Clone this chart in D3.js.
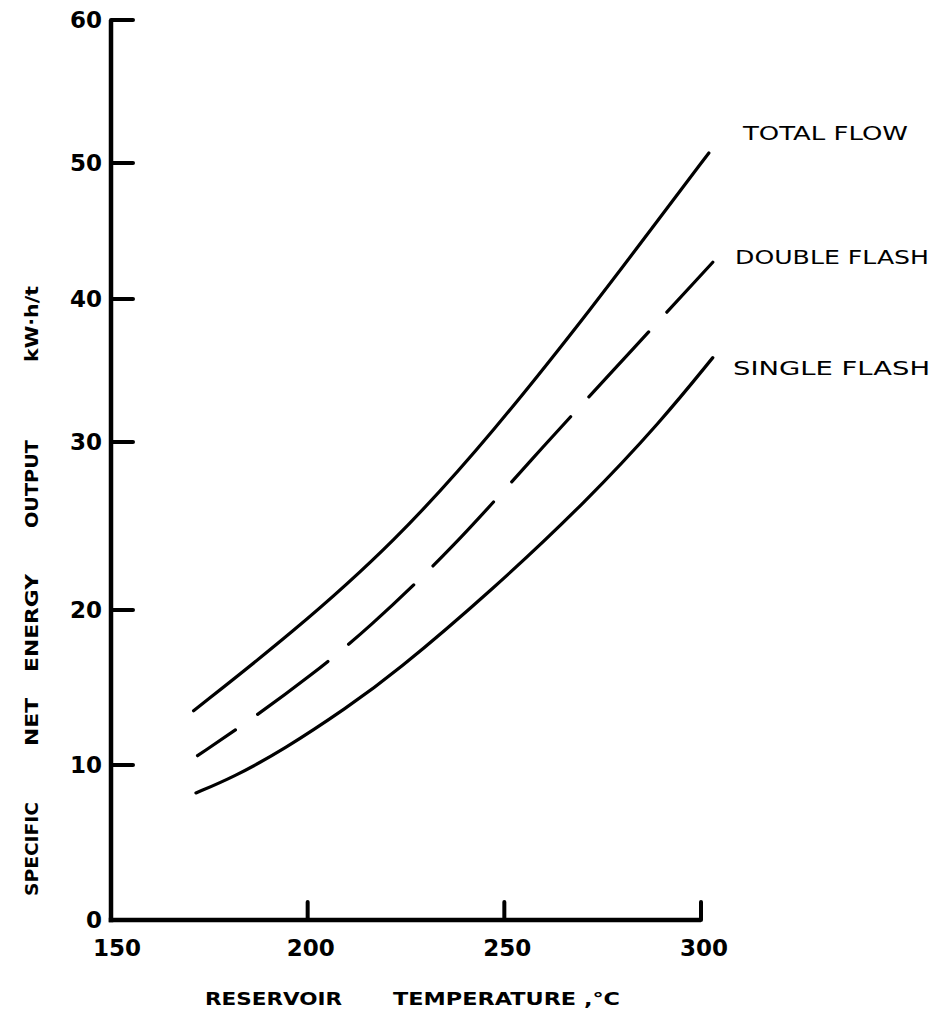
<!DOCTYPE html>
<html>
<head>
<meta charset="utf-8">
<script src="https://cdn.jsdelivr.net/npm/d3@7"></script>
<style>
  body { margin: 0; background: #fff; }
  text { font-family: "DejaVu Sans", sans-serif; fill: #000; }
</style>
</head>
<body>
<script>
// hand drawn value axis: ticks are not evenly spaced in the original
const yTicks = [0, 10, 20, 30, 40, 50, 60];
const yTickPx = [920, 765, 610, 442, 299, 163, 20];
const xTicks = [150, 200, 250, 300];

const totalT = [171, 196, 222, 247, 274, 288, 302];
const totalV = [13.5, 18.5, 24.0, 30.6, 40.0, 45.4, 50.7];

const doubleT = [172, 186, 201, 215, 237, 257, 276, 303];
const doubleV = [10.6, 13.0, 15.8, 18.7, 23.7, 29.0, 34.5, 42.7];

const singleT = [171.6, 181, 194, 210, 222, 247, 271, 290, 303];
const singleV = [8.2, 9.2, 11.0, 13.7, 15.9, 21.2, 26.5, 31.5, 35.9];

const seriesNames = ["TOTAL FLOW", "DOUBLE FLASH", "SINGLE FLASH"];

const W = 935, H = 1010;
const svg = d3.select("body").append("svg")
    .attr("width", W)
    .attr("height", H);

const x = d3.scaleLinear().domain([150, 300]).range([111, 701]);
const y = d3.scaleLinear().domain(yTicks).range(yTickPx);

// thick axis lines with short ticks, like the drawing
const axisW = 4.5;
svg.append("line")
    .attr("x1", x(150)).attr("x2", x(150))
    .attr("y1", y(0) + axisW / 2).attr("y2", y(60))
    .attr("stroke", "#000").attr("stroke-width", axisW);
svg.append("line")
    .attr("x1", x(150) - axisW / 2).attr("x2", x(300))
    .attr("y1", y(0)).attr("y2", y(0))
    .attr("stroke", "#000").attr("stroke-width", axisW);

svg.selectAll(".ytick")
    .data(yTicks.filter(d => d > 0))
    .enter()
    .append("line")
    .attr("class", "ytick")
    .attr("x1", x(150)).attr("x2", x(150) + 22)
    .attr("y1", d => y(d)).attr("y2", d => y(d))
    .attr("stroke", "#000").attr("stroke-width", 4)
    .attr("stroke-linecap", "round");

svg.selectAll(".xtick")
    .data(xTicks.filter(d => d > 150))
    .enter()
    .append("line")
    .attr("class", "xtick")
    .attr("x1", d => x(d)).attr("x2", d => x(d))
    .attr("y1", y(0)).attr("y2", y(0) - 18)
    .attr("stroke", "#000").attr("stroke-width", 4)
    .attr("stroke-linecap", "round");

svg.selectAll(".ylab")
    .data(yTicks)
    .enter()
    .append("text")
    .attr("class", "ylab")
    .attr("x", 102)
    .attr("y", d => y(d))
    .attr("dy", "0.36em")
    .attr("text-anchor", "end")
    .attr("font-size", 23)
    .attr("font-weight", "bold")
    .text(d => d);

svg.selectAll(".xlab")
    .data(xTicks)
    .enter()
    .append("text")
    .attr("class", "xlab")
    .attr("x", d => x(d) + (d === 150 ? 6 : 3))
    .attr("y", 948)
    .attr("dy", "0.36em")
    .attr("text-anchor", "middle")
    .attr("font-size", 23)
    .attr("font-weight", "bold")
    .text(d => d);

// axis titles
svg.append("text")
    .attr("x", 205).attr("y", 1005)
    .attr("font-size", 18).attr("font-weight", "bold")
    .attr("textLength", 137).attr("lengthAdjust", "spacingAndGlyphs")
    .text("RESERVOIR");
svg.append("text")
    .attr("x", 393).attr("y", 1005)
    .attr("font-size", 18).attr("font-weight", "bold")
    .attr("textLength", 227).attr("lengthAdjust", "spacingAndGlyphs")
    .text("TEMPERATURE ,°C");

const yTitle = [
    ["SPECIFIC", 896, 94],
    ["NET", 746, 48],
    ["ENERGY", 672, 98],
    ["OUTPUT", 528, 88],
    ["kW·h/t", 362, 76]
];
yTitle.forEach(([word, y0, len]) => {
    svg.append("text")
        .attr("transform", "translate(38," + y0 + ") rotate(-90)")
        .attr("font-size", 18).attr("font-weight", "bold")
        .attr("textLength", len).attr("lengthAdjust", "spacingAndGlyphs")
        .text(word);
});

// curves
const line = d3.line()
    .x(d => x(d[0]))
    .y(d => y(d[1]))
    .curve(d3.curveBasis);

const series = [
    { pts: d3.zip(totalT, totalV), dash: null },
    { pts: d3.zip(doubleT, doubleV), dash: "88,27" },
    { pts: d3.zip(singleT, singleV), dash: null }
];

svg.selectAll(".curve")
    .data(series)
    .enter()
    .append("path")
    .attr("class", "curve")
    .attr("d", d => line(d.pts))
    .attr("fill", "none")
    .attr("stroke", "#000")
    .attr("stroke-width", 3.2)
    .attr("stroke-linecap", "round")
    .attr("stroke-dasharray", d => d.dash)
    .attr("stroke-dashoffset", d => d.dash ? 42 : null);

// series labels
const labelPos = [[743, 133, 165], [735, 257, 194], [733, 368, 197]];
svg.selectAll(".slab")
    .data(seriesNames)
    .enter()
    .append("text")
    .attr("class", "slab")
    .attr("x", (d, i) => labelPos[i][0])
    .attr("y", (d, i) => labelPos[i][1])
    .attr("dy", "0.36em")
    .attr("font-size", 19)
    .attr("textLength", (d, i) => labelPos[i][2])
    .attr("lengthAdjust", "spacingAndGlyphs")
    .text(d => d);
</script>
</body>
</html>
